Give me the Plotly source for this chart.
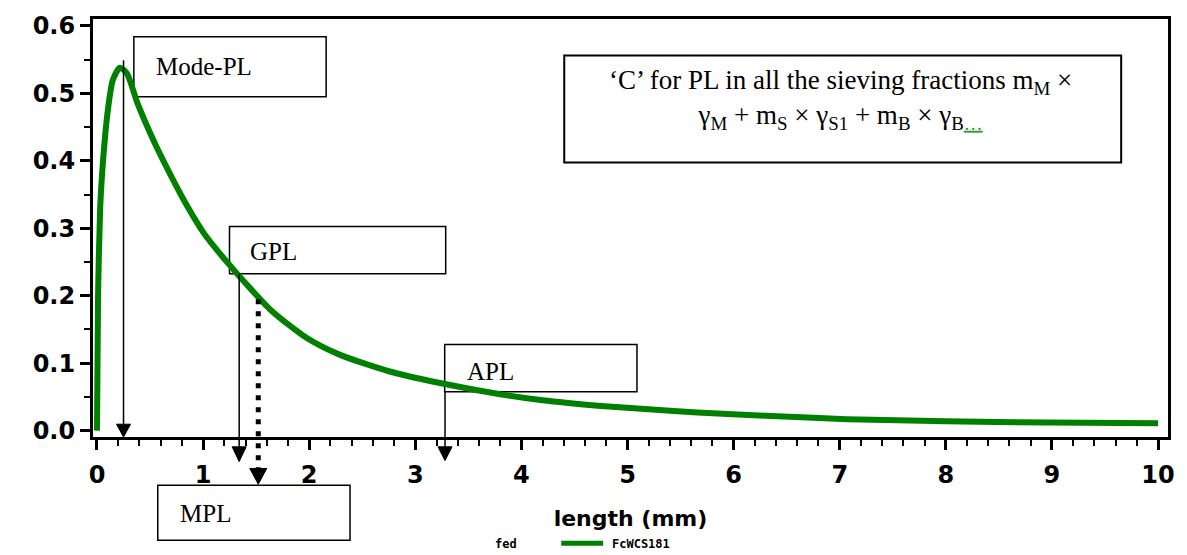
import plotly.graph_objects as go

# ---- data ----
length_mm = [0.0, 0.01, 0.03, 0.05, 0.10, 0.15, 0.216, 0.28, 0.385, 0.545, 0.70, 0.85, 1.01,
             1.23, 1.455, 1.65, 1.97, 2.28, 2.75, 3.22, 3.80, 4.20, 4.72, 5.20, 5.66, 6.30,
             7.07, 8.0, 8.95, 10.0]
density = [0.0, 0.20, 0.33, 0.385, 0.472, 0.52, 0.538, 0.53, 0.484, 0.426, 0.377, 0.333, 0.292,
           0.249, 0.209, 0.177, 0.138, 0.113, 0.088, 0.071, 0.054, 0.045, 0.037, 0.0315, 0.027, 0.022,
           0.017, 0.014, 0.012, 0.011]

series_name = "FcWCS181"
legend_title = "fed"
x_title = "length (mm)"
x_ticks = [0, 1, 2, 3, 4, 5, 6, 7, 8, 9, 10]
y_ticks = [0.0, 0.1, 0.2, 0.3, 0.4, 0.5, 0.6]
y_ticklabels = ["0.0", "0.1", "0.2", "0.3", "0.4", "0.5", "0.6"]

stat_names = ["Mode-PL", "GPL", "MPL", "APL"]
stat_values = [0.25, 1.34, 1.52, 3.28]

formula_text = ("‘C’ for PL in all the sieving fractions m<sub>M</sub> ×<br>"
                "γ<sub>M</sub> + m<sub>S</sub> × γ<sub>S1</sub> + m<sub>B</sub> × γ<sub>B"
                "<span style='color:#2a9a2a'><u>…</u></span></sub>")

# ---- layout geometry (pixels of the 1187x555 canvas) ----
W, H = 1187, 555
PL, PR, PT, PB = 93, 1172, 12, 437
GREEN = "#008000"


def px(xp):
    return (xp - PL) / (PR - PL)


def py(yp):
    return (PB - yp) / (PB - PT)


fig = go.Figure()
fig.add_trace(go.Scatter(x=length_mm, y=density, mode="lines", name=series_name,
                         line=dict(color=GREEN, width=6, shape="spline", smoothing=0.7),
                         showlegend=False))

shapes = []
annotations = []
serif = "Liberation Serif, Times New Roman, serif"
mono = "DejaVu Sans Mono, monospace"


def box(x0, y0, x1, y1, lw=1.5):
    shapes.append(dict(type="rect", xref="paper", yref="paper",
                       x0=px(x0), x1=px(x1), y0=py(y1), y1=py(y0),
                       line=dict(color="black", width=lw), fillcolor="white", layer="below"))


def label(text, xl, yc, size=25):
    annotations.append(dict(text=text, xref="paper", yref="paper", x=px(xl), y=py(yc),
                            xanchor="left", yanchor="middle", showarrow=False,
                            font=dict(family=serif, size=size, color="black")))


def arrow(xv, y_top, y_head, y_tip, half_w=0.066, width=1.5, dash="solid"):
    shapes.append(dict(type="line", xref="x", yref="paper", x0=xv, x1=xv,
                       y0=py(y_top), y1=py(y_head), line=dict(color="black", width=width, dash=dash),
                       layer="above"))
    shapes.append(dict(type="path", xref="x", yref="paper",
                       path=f"M {xv - half_w},{py(y_head)} L {xv + half_w},{py(y_head)} L {xv},{py(y_tip)} Z",
                       fillcolor="black", line=dict(color="black", width=1), layer="above"))


# Mode-PL
box(134, 30, 327, 91)
label(stat_names[0], 154, 60)
arrow(stat_values[0], 54, 424, 437)
# GPL
box(230, 223, 447, 271)
label(stat_names[1], 249, 248)
arrow(stat_values[1], 271, 447, 462)
# MPL (dotted)
box(158, 486, 351, 542)
label(stat_names[2], 178, 515)
arrow(stat_values[2], 297, 469, 485, half_w=0.08, width=5, dash="5px,7px")
# APL
box(446, 343, 639, 391)
label(stat_names[3], 466, 370)
arrow(stat_values[3], 391, 447, 461)
# formula box
box(566, 49, 1125, 158, lw=2)
annotations.append(dict(text=formula_text, xref="paper", yref="paper", x=px(843), y=py(57),
                        xanchor="center", yanchor="top", align="center", showarrow=False,
                        font=dict(family=serif, size=27, color="black")))

# manual legend row
annotations.append(dict(text=legend_title, xref="paper", yref="paper", x=px(494), y=py(546),
                        xanchor="left", yanchor="middle", showarrow=False,
                        font=dict(family=mono, size=12, color="black", weight="bold")))
shapes.append(dict(type="line", xref="paper", yref="paper", x0=px(563), x1=px(605),
                   y0=py(545), y1=py(545), line=dict(color=GREEN, width=5)))
annotations.append(dict(text=series_name, xref="paper", yref="paper", x=px(612), y=py(546),
                        xanchor="left", yanchor="middle", showarrow=False,
                        font=dict(family=mono, size=12, color="black", weight="bold")))

tickfont = dict(family="DejaVu Sans", size=24, color="black", weight="bold")

fig.update_layout(
    width=W, height=H,
    margin=dict(l=PL, r=W - PR, t=PT, b=H - PB, pad=0),
    paper_bgcolor="white", plot_bgcolor="white",
    shapes=shapes, annotations=annotations,
    showlegend=False,
    xaxis=dict(range=[-0.0376, 10.094], tickvals=x_ticks, ticktext=[str(v) for v in x_ticks],
               ticks="outside", ticklen=10, tickwidth=3, tickcolor="black",
               minor=dict(ticks="outside", ticklen=6, tickwidth=2, tickcolor="black", dtick=0.2),
               showline=True, linewidth=3, linecolor="black", mirror=True,
               showgrid=False, zeroline=False, tickfont=tickfont, ticklabelstandoff=4,
               title=dict(text=x_title, standoff=23,
                          font=dict(family="DejaVu Sans", size=22, color="black", weight="bold"))),
    yaxis=dict(range=[-0.00948, 0.6102], tickvals=y_ticks, ticktext=y_ticklabels,
               ticks="outside", ticklen=10, tickwidth=3, tickcolor="black",
               minor=dict(ticks="outside", ticklen=6, tickwidth=2, tickcolor="black", dtick=0.05),
               showline=True, linewidth=3, linecolor="black", mirror=True,
               showgrid=False, zeroline=False, tickfont=tickfont),
)

fig.write_html("out.html")
